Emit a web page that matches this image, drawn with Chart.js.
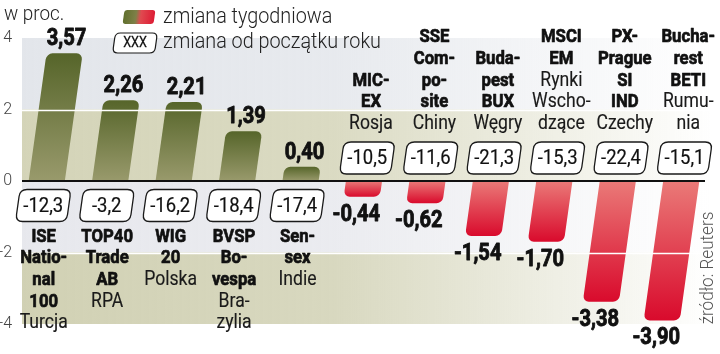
<!DOCTYPE html>
<html>
<head>
<meta charset="utf-8">
<script src="https://cdn.jsdelivr.net/npm/chart.js@4.4.1/dist/chart.umd.min.js"></script>
<style>
html,body{margin:0;padding:0;background:#fff;}
canvas{display:block;}
</style>
</head>
<body>
<canvas id="c" width="720" height="354"></canvas>
<script>
// ---- data ----
const indexNames = [
  ['ISE','Natio-','nal','100'],
  ['TOP40','Trade','AB'],
  ['WIG','20'],
  ['BVSP','Bo-','vespa'],
  ['Sen-','sex'],
  ['MIC-','EX'],
  ['SSE','Com-','po-','site'],
  ['Buda-','pest','BUX'],
  ['MSCI','EM'],
  ['PX-','Prague','SI','IND'],
  ['Bucha-','rest','BETI']
];
const countries = [
  ['Turcja'],
  ['RPA'],
  ['Polska'],
  ['Bra-','zylia'],
  ['Indie'],
  ['Rosja'],
  ['Chiny'],
  ['Węgry'],
  ['Rynki','Wscho-','dzące'],
  ['Czechy'],
  ['Rumu-','nia']
];
const weeklyChange = [3.57, 2.26, 2.21, 1.39, 0.40, -0.44, -0.62, -1.54, -1.70, -3.38, -3.90];
const ytdChange = [-12.3, -3.2, -16.2, -18.4, -17.4, -10.5, -11.6, -21.3, -15.3, -22.4, -15.1];
const yTicks = [4, 2, 0, -2, -4];
const labels = indexNames.map(a => a.join(' '));

// ---- style ----
const K = 0.14; // slant of bars
const FONT = 'Roboto, "Noto Sans", sans-serif';

function fmt(v, d){ return v.toFixed(d).replace('.', ','); }

function txt(ctx, s, x, y, font, color, align, sx, heavy){
  ctx.save();
  ctx.translate(x, y);
  ctx.scale(sx, 1);
  ctx.font = font;
  ctx.fillStyle = color;
  ctx.textAlign = align;
  ctx.textBaseline = 'middle';
  ctx.fillText(s, 0, 0);
  if (heavy){
    ctx.strokeStyle = color;
    ctx.lineWidth = heavy;
    ctx.lineJoin = 'round';
    ctx.strokeText(s, 0, 0);
  }
  ctx.restore();
}

function slantBox(ctx, cx, cy, w, h, r, k, fill, stroke, lw){
  ctx.save();
  ctx.translate(cx, cy);
  ctx.transform(1, 0, -k, 1, 0, 0);
  const x = -w/2, y = -h/2;
  ctx.beginPath();
  ctx.moveTo(x + r, y);
  ctx.lineTo(x + w - r, y);
  ctx.quadraticCurveTo(x + w, y, x + w, y + r);
  ctx.lineTo(x + w, y + h - r);
  ctx.quadraticCurveTo(x + w, y + h, x + w - r, y + h);
  ctx.lineTo(x + r, y + h);
  ctx.quadraticCurveTo(x, y + h, x, y + h - r);
  ctx.lineTo(x, y + r);
  ctx.quadraticCurveTo(x, y, x + r, y);
  ctx.closePath();
  if (fill) { ctx.fillStyle = fill; ctx.fill(); }
  if (stroke) { ctx.lineWidth = lw; ctx.strokeStyle = stroke; ctx.stroke(); }
  ctx.restore();
}

const bandsPlugin = {
  id: 'bands',
  beforeDatasetsDraw(chart){
    const {ctx, chartArea: ca, scales: {y}} = chart;
    const x0 = ca.left + 7, x1 = ca.right;
    const cols = [[227,230,235],[212,212,184],[231,232,237],[209,209,180]];
    for (let i = 0; i < yTicks.length - 1; i++){
      const yA = y.getPixelForValue(yTicks[i]);
      const yB = y.getPixelForValue(yTicks[i+1]);
      const c = cols[i];
      const g = ctx.createLinearGradient(x0, 0, x1, 0);
      g.addColorStop(0, `rgba(${c[0]},${c[1]},${c[2]},1)`);
      g.addColorStop(0.45, `rgba(${c[0]},${c[1]},${c[2]},0.85)`);
      g.addColorStop(1, `rgba(${c[0]},${c[1]},${c[2]},0)`);
      ctx.fillStyle = g;
      ctx.fillRect(x0, yA, x1 - x0, yB - yA);
    }
    // slant for bars
    const y0 = y.getPixelForValue(0);
    ctx.save();
    ctx.transform(1, 0, -K, 1, K * y0, 0);
  },
  afterDatasetsDraw(chart){
    const {ctx, chartArea: ca, scales: {y}} = chart;
    ctx.restore();
    const x0 = ca.left + 7, x1 = ca.right - 3;
    // white grid lines over the bars
    ctx.save();
    ctx.strokeStyle = '#ffffff';
    ctx.lineWidth = 1.6;
    [2, -2].forEach(v => {
      const yy = Math.round(y.getPixelForValue(v)) + 0.5;
      ctx.beginPath(); ctx.moveTo(x0, yy); ctx.lineTo(x1 + 3, yy); ctx.stroke();
    });
    // zero line
    const y0 = y.getPixelForValue(0);
    ctx.strokeStyle = '#111';
    ctx.lineWidth = 2;
    ctx.beginPath(); ctx.moveTo(x0, y0); ctx.lineTo(x1 - 5, y0); ctx.stroke();
    ctx.restore();
  },
  afterDraw(chart){
    const {ctx, scales: {y}} = chart;
    const meta = chart.getDatasetMeta(0);
    const y0 = y.getPixelForValue(0);
    meta.data.forEach((bar, i) => {
      const v = weeklyChange[i];
      const yEnd = y.getPixelForValue(v);
      const pos = v >= 0;
      // value label
      const ly = pos ? yEnd - 14 : yEnd + 18;
      const lx = bar.x + K * (y0 - ly) - (pos ? 0 : 3);
      txt(ctx, fmt(v, 2), lx, ly, 'bold 24px ' + FONT, '#111', 'center', 0.84, 0.9);
      // ytd box
      const by = pos ? y0 + 24.5 : y0 - 23;
      const bx = bar.x + K * (y0 - by);
      slantBox(ctx, bx, by, 51, 32, 7, K, '#ffffff', '#1a1a1a', 1.3);
      txt(ctx, fmt(ytdChange[i], 1), bx, by + 1, '21px ' + FONT, '#111', 'center', 0.88, 0.2);
      // category labels
      const lines = indexNames[i].map(s => [s, true]).concat(countries[i].map(s => [s, false]));
      const step = 21.6;
      const cx = pos ? bar.x - 3 : bar.x + 7;
      let startY = pos ? y0 + 56 : (y0 - 57) - (lines.length - 1) * step;
      lines.forEach(([s, b], j) => {
        if (b) txt(ctx, s, cx, startY + j * step, 'bold 19px ' + FONT, '#111', 'center', 0.88, 0.7);
        else txt(ctx, s, cx, startY + j * step, '20px ' + FONT, '#1a1a1a', 'center', 0.88, 0.15);
      });
    });
    // header texts & legend
    txt(ctx, 'w proc.', 4, 15, '300 21px ' + FONT, '#222', 'left', 0.9);
    const g = ctx.createLinearGradient(-16, 0, 16, 0);
    g.addColorStop(0, '#5f6f2c');
    g.addColorStop(0.4, '#7e8048');
    g.addColorStop(0.55, '#e04a50');
    g.addColorStop(1, '#dd1a33');
    slantBox(ctx, 139, 17, 31, 14, 3, K, g, null, 0);
    txt(ctx, 'zmiana tygodniowa', 163, 17, '300 22px ' + FONT, '#222', 'left', 0.9);
    slantBox(ctx, 135, 43, 42, 20, 5, K, '#ffffff', '#1a1a1a', 1.2);
    txt(ctx, 'XXX', 135, 43, '14px ' + FONT, '#111', 'center', 0.9, 0.3);
    txt(ctx, 'zmiana od początku roku', 163, 42, '300 22px ' + FONT, '#222', 'left', 0.9);
    // source
    ctx.save();
    ctx.translate(708, 268);
    ctx.rotate(-Math.PI / 2);
    txt(ctx, 'źródło: Reuters', 0, 0, '300 19px ' + FONT, '#555', 'center', 0.9);
    ctx.restore();
  }
};

function barFill(context){
  const chart = context.chart;
  const y = chart.scales.y;
  if (!y || context.dataIndex === undefined) return '#777';
  const v = weeklyChange[context.dataIndex];
  const y0 = y.getPixelForValue(0);
  const y1 = y.getPixelForValue(v);
  if (!isFinite(y0) || !isFinite(y1) || y0 === y1) return v >= 0 ? '#6b7535' : '#e03040';
  const g = chart.ctx.createLinearGradient(0, y0, 0, y1);
  if (v >= 0){
    g.addColorStop(0, '#999a6c');
    g.addColorStop(1, '#56652a');
  } else {
    g.addColorStop(0, '#ea7a78');
    g.addColorStop(1, '#d90a2c');
  }
  return g;
}

new Chart(document.getElementById('c'), {
  type: 'bar',
  data: {
    labels: labels,
    datasets: [{
      data: weeklyChange,
      backgroundColor: barFill,
      borderWidth: 0,
      borderRadius: 6,
      borderSkipped: 'start',
      barPercentage: 0.57,
      categoryPercentage: 1.0,
      clip: false
    }]
  },
  options: {
    responsive: false,
    animation: false,
    layout: { padding: { top: 38, bottom: 30, left: 0, right: 7 } },
    plugins: { legend: { display: false }, tooltip: { enabled: false } },
    scales: {
      x: { display: false, offset: true },
      y: {
        min: -4, max: 4,
        afterFit(scale){ scale.width = 15; },
        afterBuildTicks(scale){ scale.ticks = yTicks.map(v => ({ value: v })); },
        grid: { display: false, drawTicks: false },
        border: { display: false },
        ticks: {
          padding: 3,
          color: '#444',
          font: { family: 'Roboto', size: 16, weight: '300' },
          callback: v => String(v)
        }
      }
    }
  },
  plugins: [bandsPlugin]
});
</script>
</body>
</html>
